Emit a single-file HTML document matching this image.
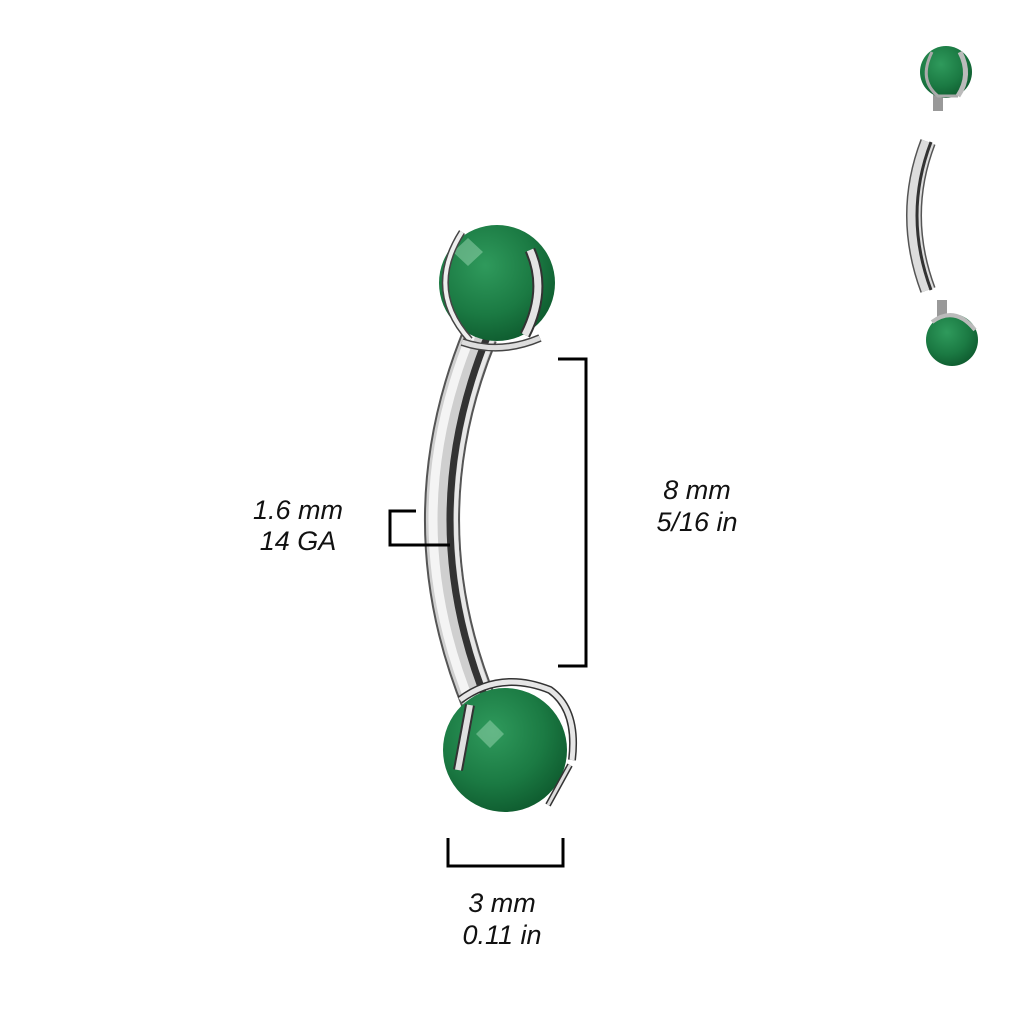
<!DOCTYPE html>
<html><head><meta charset="utf-8"><style>
html,body{margin:0;padding:0;background:#fff;}
svg{display:block}
text{font-family:"Liberation Sans",sans-serif;font-style:italic;font-size:27px;fill:#111;}
</style></head><body>
<svg width="1024" height="1024" viewBox="0 0 1024 1024">
<defs>
<radialGradient id="gem" cx="0.4" cy="0.35" r="0.7">
<stop offset="0" stop-color="#2f9a5c"/><stop offset="0.6" stop-color="#1b7a43"/><stop offset="1" stop-color="#0e5a2e"/>
</radialGradient>
</defs>
<!-- main bar -->
<g fill="none" stroke-linecap="butt">
<path d="M480 335 Q404 520 480 705" stroke="#555" stroke-width="36"/>
<path d="M480 335 Q404 520 480 705" stroke="#cfcfcf" stroke-width="32"/>
<path d="M471 335 Q395 520 471 705" stroke="#f4f4f4" stroke-width="9"/>
<path d="M488 335 Q412 520 488 705" stroke="#333" stroke-width="7"/>
<path d="M494 335 Q418 520 494 705" stroke="#e8e8e8" stroke-width="4"/>
</g>
<!-- top ball -->
<circle cx="497" cy="283" r="58" fill="url(#gem)"/>
<path d="M468 238 L483 252 L468 266 L453 252Z" fill="#8fd0aa" opacity="0.55"/>
<path d="M462 232 Q425 290 470 340" fill="none" stroke="#444" stroke-width="7"/>
<path d="M462 232 Q425 290 470 340" fill="none" stroke="#eee" stroke-width="4"/>
<path d="M462 342 Q500 355 540 338" fill="none" stroke="#444" stroke-width="8"/>
<path d="M462 342 Q500 355 540 338" fill="none" stroke="#ddd" stroke-width="5"/>
<path d="M530 250 Q548 290 525 335" fill="none" stroke="#333" stroke-width="11"/>
<path d="M530 250 Q548 290 525 335" fill="none" stroke="#e4e4e4" stroke-width="7"/>
<!-- bottom ball -->
<circle cx="505" cy="750" r="62" fill="url(#gem)"/>
<path d="M490 720 L504 734 L490 748 L476 734Z" fill="#8fd0aa" opacity="0.55"/>
<path d="M460 700 Q500 670 550 690 Q578 710 572 760" fill="none" stroke="#333" stroke-width="8"/>
<path d="M460 700 Q500 670 550 690 Q578 710 572 760" fill="none" stroke="#e6e6e6" stroke-width="5"/>
<path d="M470 705 L458 770" fill="none" stroke="#333" stroke-width="10"/>
<path d="M470 705 L458 770" fill="none" stroke="#e0e0e0" stroke-width="6"/>
<path d="M570 765 L548 805" fill="none" stroke="#333" stroke-width="6"/>
<path d="M570 765 L548 805" fill="none" stroke="#ddd" stroke-width="3"/>
<!-- dimension lines -->
<path d="M558 359 H586 V666 H558" fill="none" stroke="#000" stroke-width="3"/>
<path d="M416 511 H390 V545 H450" fill="none" stroke="#000" stroke-width="3"/>
<path d="M448 838 V866 H563 V838" fill="none" stroke="#000" stroke-width="3"/>
<text x="298" y="519" text-anchor="middle">1.6 mm</text>
<text x="298" y="550" text-anchor="middle">14 GA</text>
<text x="697" y="499" text-anchor="middle">8 mm</text>
<text x="697" y="531" text-anchor="middle">5/16 in</text>
<text x="502" y="912" text-anchor="middle">3 mm</text>
<text x="502" y="944" text-anchor="middle">0.11 in</text>
<!-- small exploded view -->
<rect x="933" y="95" width="10" height="16" fill="#999"/>
<circle cx="946" cy="72" r="26" fill="url(#gem)"/>
<path d="M932 52 Q918 80 938 96 L958 96" fill="none" stroke="#aaa" stroke-width="3"/>
<path d="M960 52 Q972 75 958 96" fill="none" stroke="#bbb" stroke-width="5"/>
<g fill="none">
<path d="M928 142 Q900 215 928 290" stroke="#555" stroke-width="16"/>
<path d="M928 142 Q900 215 928 290" stroke="#ddd" stroke-width="13"/>
<path d="M931 142 Q903 215 931 290" stroke="#333" stroke-width="3"/>
</g>
<rect x="937" y="300" width="10" height="18" fill="#999"/>
<circle cx="952" cy="340" r="26" fill="url(#gem)"/>
<path d="M932 322 Q955 305 975 330" fill="none" stroke="#bbb" stroke-width="4"/>
</svg>
</body></html>
